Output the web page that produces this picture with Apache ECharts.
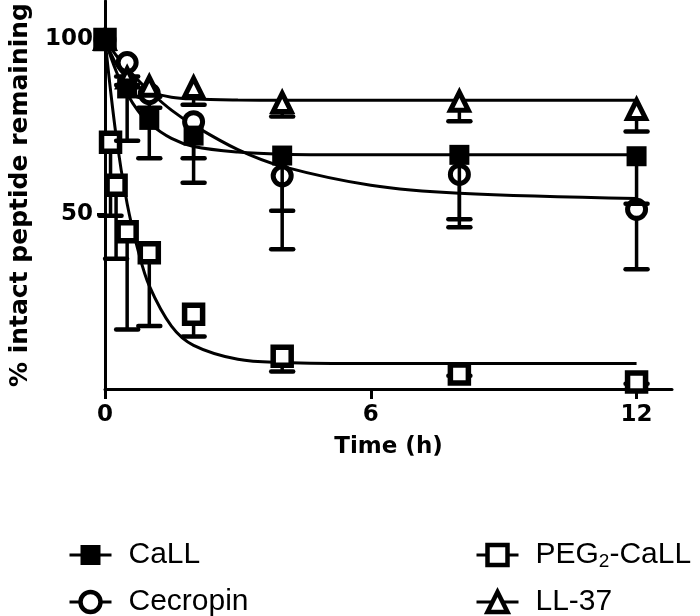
<!DOCTYPE html>
<html><head><meta charset="utf-8">
<script src="https://cdn.jsdelivr.net/npm/echarts@6/dist/echarts.min.js"></script>
<style>html,body{margin:0;padding:0;background:#fff}#c{width:700px;height:616px}</style>
</head><body><div id="c"></div>
<script>
// ---- data ----
const timeMain = [0, 0.5, 1, 2, 4, 8, 12];
const callMean = [100, 86, 77, 72.5, 66.8, 67, 66.6];
const callErr  = [0, 15, 11, 6.5, 15.8, 18.4, 13.6];
const cecMean  = [100, 93.4, 84.5, 76.5, 61, 61.4, 51.4];
const cecErr   = [0, 4, 4, 17.5, 21, 15.1, 17.1];
const llMean   = [100, 89, 86.6, 86.3, 82, 82.3, 80];
const llErr    = [0, 2, 3, 5, 4, 5.7, 6.3];
const pegTime  = [0, 0.125, 0.25, 0.5, 1, 2, 4, 8, 12];
const pegMean  = [100, 70.6, 58.3, 45, 39, 21.4, 9.4, 4.3, 2];
const pegErr   = [0, 21, 21, 28, 21, 6.4, 4.4, 0.5, 0.5];
// fitted decay curves
const curveTime = [0, 0.25, 0.5, 0.75, 1, 1.5, 2, 3, 4, 6, 8, 12];
const callCurve = [100, 91, 84.5, 79.5, 76, 71.7, 69.4, 67.8, 67.2, 67, 67, 67];
const cecCurve  = [100, 95.5, 91.8, 88.3, 85.2, 79.8, 75.5, 68.5, 63.7, 58.3, 56, 54.5];
const pegCurve  = [100, 72.5, 53, 39.5, 29.5, 18, 12.5, 8.5, 7.6, 7.3, 7.3, 7.3];
const llCurve   = [100, 93, 89, 86.5, 85, 83.5, 83, 82.7, 82.6, 82.6, 82.6, 82.6];
const xTicks = [0, 6, 12];
const yTicks = [50, 100];
const names = ['CaLL', 'Cecropin', 'PEG2-CaLL', 'LL-37'];

const FONT_B = "'DejaVu Sans', sans-serif";
const FONT_L = "'Liberation Sans', Arial, sans-serif";

const styles = {
  'CaLL':      {symbol: 'rect', size: 20, item: {color: '#000', borderColor: '#000', borderWidth: 0, opacity: 1}},
  'Cecropin':  {symbol: 'circle', size: 18, item: {color: '#fff', borderColor: '#000', borderWidth: 5, opacity: 1}},
  'PEG2-CaLL': {symbol: 'rect', size: 18, item: {color: '#fff', borderColor: '#000', borderWidth: 5.5, opacity: 1}},
  'LL-37':     {symbol: 'triangle', size: 18, item: {color: '#fff', borderColor: '#000', borderWidth: 5, opacity: 1}}
};

function pairs(xs, ys) { return xs.map((x, i) => [x, ys[i]]); }
function errData(xs, m, e) { return xs.map((x, i) => [x, m[i], m[i] - e[i]]); }

function errRender(params, api) {
  const x = api.value(0), y = api.value(1), lo = api.value(2);
  if (!(lo < y)) return null;
  const p1 = api.coord([x, y]);
  const p2 = api.coord([x, lo]);
  const hw = 11;
  return {type: 'group', children: [
    {type: 'line', shape: {x1: p1[0], y1: p1[1], x2: p2[0], y2: p2[1]}, style: {stroke: '#000', lineWidth: 3.5}},
    {type: 'line', shape: {x1: p2[0] - hw, y1: p2[1], x2: p2[0] + hw, y2: p2[1]}, style: {stroke: '#000', lineWidth: 4.5, lineCap: 'round'}}
  ]};
}

const groups = [
  {name: 'CaLL', t: timeMain, m: callMean, e: callErr, c: callCurve, ez: 6, mz: 5},
  {name: 'Cecropin', t: timeMain, m: cecMean, e: cecErr, c: cecCurve, ez: 3, mz: 4},
  {name: 'PEG2-CaLL', t: pegTime, m: pegMean, e: pegErr, c: pegCurve, ez: 3, mz: 4},
  {name: 'LL-37', t: timeMain, m: llMean, e: llErr, c: llCurve, ez: 3, mz: 4}
];

const series = [];
groups.forEach(g => {
  const st = styles[g.name];
  series.push({
    name: g.name, type: 'line', data: pairs(curveTime, g.c),
    smooth: 0.35, showSymbol: false,
    symbol: st.symbol, symbolSize: st.size, itemStyle: st.item,
    lineStyle: {color: '#000', width: 3}, z: 2, silent: true
  });
  series.push({
    type: 'custom', renderItem: errRender, data: errData(g.t, g.m, g.e),
    encode: {x: 0, y: [1, 2]}, z: g.ez, silent: true
  });
  series.push({
    type: 'scatter', data: pairs(g.t, g.m), symbol: st.symbol, symbolSize: st.size,
    itemStyle: st.item, z: g.mz, silent: true, clip: false
  });
});

function legendFmt(name) {
  if (name === 'PEG2-CaLL') return '{n|PEG}{s|2}{n|-CaLL}';
  return '{n|' + name + '}';
}
function legendItem(name) {
  const it = styles[name].item;
  return {name: name, itemStyle: {color: it.color, borderColor: '#000', borderWidth: it.borderWidth ? 4.5 : 0, opacity: 1},
          lineStyle: {color: '#000', width: 3}};
}
const legendText = {
  color: '#000', fontFamily: FONT_L, fontSize: 30, lineHeight: 34, padding: [0, 0, 0, 12],
  rich: {n: {fontFamily: FONT_L, fontSize: 30, color: '#000'},
         s: {fontFamily: FONT_L, fontSize: 19, color: '#000', padding: [14, 0, 0, 0]}}
};
const legendCommon = {orient: 'vertical', itemWidth: 42, itemHeight: 25, itemGap: 13, height: 110,
  textStyle: legendText, formatter: legendFmt, selectedMode: false};

const chart = echarts.init(document.getElementById('c'), null, {renderer: 'canvas'});
chart.setOption({
  animation: false,
  backgroundColor: '#fff',
  grid: {left: 105, right: 28, top: 1, bottom: 227, containLabel: false},
  legend: [
    Object.assign({data: [legendItem(names[0]), legendItem(names[1])], left: 63, top: 533}, legendCommon),
    Object.assign({data: [legendItem(names[2]), legendItem(names[3])], left: 470, top: 533}, legendCommon)
  ],
  xAxis: {
    type: 'value', min: 0, max: 12.8, interval: 6,
    name: 'Time (h)', nameLocation: 'middle', nameGap: 47,
    nameTextStyle: {fontFamily: FONT_B, fontWeight: 'bold', fontSize: 23, color: '#000'},
    axisLine: {show: true, lineStyle: {color: '#000', width: 3}},
    axisTick: {show: true, length: 10, lineStyle: {color: '#000', width: 3}, customValues: xTicks},
    axisLabel: {fontFamily: FONT_B, fontWeight: 'bold', fontSize: 23, color: '#000', margin: 15, customValues: xTicks},
    splitLine: {show: false}
  },
  yAxis: {
    type: 'value', min: 0, max: 111, interval: 50,
    name: '% intact peptide remaining', nameLocation: 'middle', nameGap: 72, nameRotate: 90,
    nameTextStyle: {fontFamily: FONT_B, fontWeight: 'bold', fontSize: 25, color: '#000'},
    axisLine: {show: true, lineStyle: {color: '#000', width: 3}},
    axisTick: {show: true, length: 8, lineStyle: {color: '#000', width: 3}, customValues: yTicks},
    axisLabel: {fontFamily: FONT_B, fontWeight: 'bold', fontSize: 23, color: '#000', margin: 12, customValues: yTicks},
    splitLine: {show: false}
  },
  series: series
});
</script></body></html>
